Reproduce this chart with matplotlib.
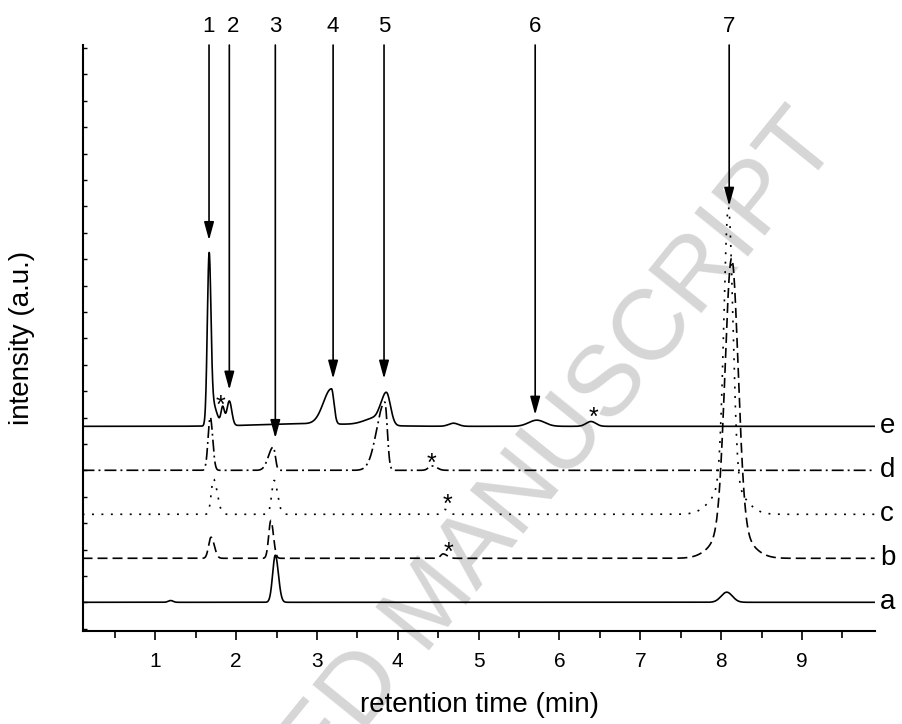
import numpy as np
import matplotlib.pyplot as plt
from matplotlib.ticker import MultipleLocator

plt.rcParams['font.family'] = ['Liberation Sans', 'DejaVu Sans']
plt.rcParams['lines.scale_dashes'] = False

# peak tables: (centre [min], height, left width, right width)
# heights in units of the vertical offset between traces
peaks_a = [(1.19, 0.04, 0.03, 0.03), (2.485, 1.07, 0.033, 0.038), (8.07, 0.23, 0.07, 0.07)]
peaks_b = [(1.69, 0.48, 0.03, 0.04), (2.43, 0.86, 0.027, 0.032), (4.56, 0.10, 0.03, 0.05),
           (8.13, 6.12, 0.08, 0.08), (8.13, 0.70, 0.2, 0.2)]
peaks_c = [(1.72, 0.80, 0.028, 0.047), (2.47, 0.77, 0.03, 0.043), (4.585, 0.11, 0.03, 0.04),
           (8.09, 6.28, 0.055, 0.055), (8.09, 0.70, 0.18, 0.18)]
peaks_d = [(1.68, 1.21, 0.027, 0.03), (2.46, 0.53, 0.06, 0.025), (3.84, 1.55, 0.1, 0.03),
           (4.42, 0.10, 0.04, 0.06)]
peaks_e = [(1.665, 3.57, 0.022, 0.022), (1.69, 0.6, 0.025, 0.06), (1.834, 0.40, 0.02, 0.022),
           (1.916, 0.56, 0.03, 0.03), (2.9, 0.06, 0.6, 0.6), (3.18, 0.80, 0.1, 0.03),
           (3.75, 0.18, 0.15, 0.05), (3.86, 0.74, 0.06, 0.05), (4.69, 0.07, 0.06, 0.06),
           (5.72, 0.14, 0.1, 0.1), (6.39, 0.11, 0.06, 0.06)]

trace_names = ['a', 'b', 'c', 'd', 'e']
trace_offsets = [0, 1, 2, 3, 4]

arrow_x = [1.665, 1.916, 2.485, 3.20, 3.83, 5.70, 8.10]
arrow_tip = [8.23, 4.83, 3.73, 5.08, 5.08, 4.26, 9.01]
arrow_labels = ['1', '2', '3', '4', '5', '6', '7']
label_x = [1.655, 1.958, 2.485, 3.20, 3.83, 5.70, 8.10]

star_x = [1.81, 6.42, 4.42, 4.61, 4.63]
star_y = [4.31, 4.04, 2.99, 2.06, 0.97]

x = np.linspace(0.1, 9.9, 4000)


def trace(peaks, offset):
    y = np.full_like(x, float(offset))
    for c, h, sl, sr in peaks:
        s = np.where(x < c, sl, sr)
        y += h * np.exp(-0.5 * ((x - c) / s) ** 2)
    return y


fig = plt.figure(figsize=(9.02, 7.24), dpi=100)
ax = fig.add_axes([0.0915, 0.1289, 0.8791, 0.8089])

styles = [(None, '-'), ((0, (7.2, 3.6)), None), ((0, (1.4, 5.4)), None),
          ((0, (8.6, 2.9, 1.4, 2.9)), None), (None, '-')]
all_peaks = [peaks_a, peaks_b, peaks_c, peaks_d, peaks_e]
for peaks, off, name, (dash, ls) in zip(all_peaks, trace_offsets, trace_names, styles):
    ax.plot(x, trace(peaks, off), color='k', lw=1.2, linestyle=dash if dash else ls, zorder=2)
    ax.text(9.97, off, name, fontsize=20, ha='left', va='center', clip_on=False)

for xa, tip in zip(arrow_x, arrow_tip):
    ax.annotate('', xy=(xa, tip), xytext=(xa, 12.667), annotation_clip=False,
                arrowprops=dict(arrowstyle='-|>,head_length=1.1,head_width=0.3',
                                color='k', lw=1.2, shrinkA=0, shrinkB=0))
for xl, lab in zip(label_x, arrow_labels):
    ax.text(xl, 13.08, lab, fontsize=16, ha='center', va='center', clip_on=False)

for xs, ys in zip(star_x, star_y):
    ax.text(xs, ys, '*', fontsize=18, ha='center', va='baseline')

ax.text(4.43, -0.07, 'ACCEPTED MANUSCRIPT', fontsize=72, color='#d6d6d6',
        rotation=51, rotation_mode='anchor', ha='center', va='center',
        zorder=0, clip_on=False)

ax.set_xlim(0.1, 9.91)
ax.set_ylim(-0.645, 12.667)
ax.spines['top'].set_visible(False)
ax.spines['right'].set_visible(False)
ax.spines['left'].set_linewidth(1.5)
ax.spines['bottom'].set_linewidth(1.5)

ax.xaxis.set_major_locator(MultipleLocator(1))
ax.xaxis.set_minor_locator(MultipleLocator(0.5))
ax.tick_params(axis='x', which='major', direction='out', length=6.5, width=1.2,
               labelsize=15, pad=9)
ax.tick_params(axis='x', which='minor', direction='out', length=5, width=1.2)
ax.yaxis.set_major_locator(MultipleLocator(0.6))
ax.tick_params(axis='y', which='major', direction='in', length=3, width=1.0,
               labelleft=False)

ax.set_xlabel('retention time (min)', fontsize=20, va='center')
ax.xaxis.set_label_coords(0.5, -0.127)
ax.set_ylabel('intensity (a.u.)', fontsize=20, va='center')
ax.yaxis.set_label_coords(-0.076, 0.5)

fig.savefig('out.png', dpi=100)
